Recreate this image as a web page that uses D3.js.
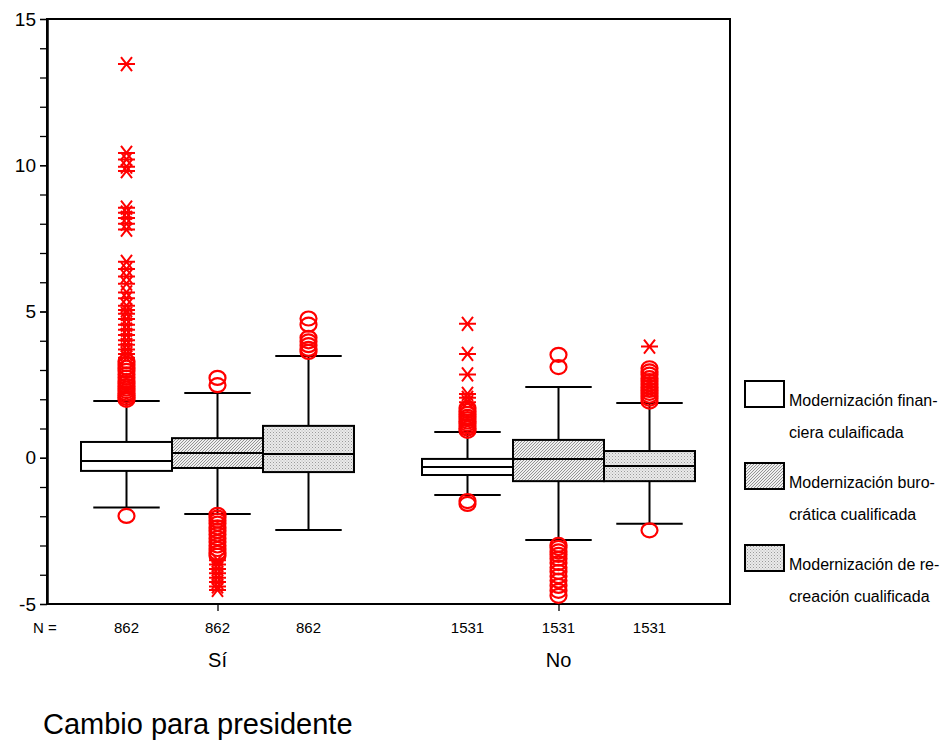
<!DOCTYPE html>
<html><head><meta charset="utf-8">
<script src="https://cdn.jsdelivr.net/npm/d3@7"></script>
<style>
body{margin:0;background:#fff;}
svg text{font-family:"Liberation Sans",Arial,sans-serif;fill:#000;}
</style></head>
<body><svg id="c" width="942" height="742"></svg>
<script>
// ---------- data ----------
const groups = ["Sí", "No"];
const series = ["Modernización financiera culaificada", "Modernización burocrática cualificada", "Modernización de recreación cualificada"];
const legendLines = [["Modernización finan-", "ciera culaificada"], ["Modernización buro-", "crática cualificada"], ["Modernización de re-", "creación cualificada"]];
const nCounts = [862, 862, 862, 1531, 1531, 1531];
const yMajorTicks = [-5, 0, 5, 10, 15];
const yMinorTicks = [-5,-4,-3,-2,-1,0,1,2,3,4,5,6,7,8,9,10,11,12,13,14,15];
// box order: Sí-fin, Sí-bur, Sí-rec, No-fin, No-bur, No-rec
const whiskerHigh = [1.94, 2.21, 3.48, 0.88, 2.42, 1.87];
const q3 = [0.54, 0.67, 1.09, -0.04, 0.61, 0.23];
const median = [-0.11, 0.16, 0.13, -0.32, -0.04, -0.28];
const q1 = [-0.45, -0.35, -0.49, -0.59, -0.80, -0.80];
const whiskerLow = [-1.70, -1.92, -2.47, -1.27, -2.81, -2.26];
// outliers (circles) and extremes (stars)
const siFinCircles = [1.98, 2.05, 2.12, 2.2, 2.28, 2.36, 2.45, 2.55, 2.62, 2.74, 2.85, 2.97, 3.08, 3.2, 3.3, -1.99];
const siFinStars = [3.42, 3.55, 3.7, 3.86, 4.02, 4.2, 4.38, 4.55, 4.74, 4.92, 5.05, 5.2, 5.45, 5.65, 5.95, 6.2, 6.45, 6.7, 7.8, 8.0, 8.2, 8.38, 8.55, 9.8, 9.95, 10.2, 10.42, 13.46];
const siBurCircles = [2.48, 2.73, -1.95, -2.05, -2.15, -2.25, -2.38, -2.5, -2.62, -2.75, -2.88, -3.0, -3.12, -3.25, -3.35];
const siBurStars = [-3.5, -3.65, -3.8, -3.95, -4.1, -4.25, -4.4, -4.52];
const siRecCircles = [3.62, 3.72, 3.85, 3.98, 4.1, 4.55, 4.76];
const siRecStars = [];
const noFinCircles = [0.92, 1.0, 1.08, 1.16, 1.24, 1.32, 1.4, 1.5, 1.6, 1.7, -1.48, -1.58];
const noFinStars = [1.9, 2.05, 2.18, 2.85, 3.55, 4.58];
const noBurCircles = [3.1, 3.52, -2.98, -3.08, -3.2, -3.32, -3.45, -3.6, -3.75, -3.9, -4.05, -4.2, -4.38, -4.55, -4.72];
const noBurStars = [];
const noRecCircles = [1.92, 2.02, 2.12, 2.22, 2.32, 2.42, 2.52, 2.62, 2.72, 2.84, 2.95, 3.06, -2.48];
const noRecStars = [3.8];

const circlesByBox = [siFinCircles, siBurCircles, siRecCircles, noFinCircles, noBurCircles, noRecCircles];
const starsByBox = [siFinStars, siBurStars, siRecStars, noFinStars, noBurStars, noRecStars];

// ---------- layout ----------
const L = 47, R = 730, T = 19, B = 604;
const svg = d3.select("#c");

const defs = svg.append("defs");
const p1 = defs.append("pattern").attr("id","hatch").attr("patternUnits","userSpaceOnUse").attr("width",3).attr("height",3);
p1.append("rect").attr("width",3).attr("height",3).attr("fill","#f0f0f0");
p1.append("path").attr("d","M-1,1 l2,-2 M0,3 l3,-3 M2,4 l2,-2").attr("stroke","#8a8a8a").attr("stroke-width",0.9);
const p2 = defs.append("pattern").attr("id","stipple").attr("patternUnits","userSpaceOnUse").attr("width",3).attr("height",3);
p2.append("rect").attr("width",3).attr("height",3).attr("fill","#eaeaea");
p2.append("rect").attr("x",0).attr("y",0).attr("width",1).attr("height",1).attr("fill","#9a9a9a");
p2.append("rect").attr("x",1.5).attr("y",1.5).attr("width",1).attr("height",1).attr("fill","#b4b4b4");
const fills = ["#ffffff", "url(#hatch)", "url(#stipple)"];

const y = d3.scaleLinear().domain([-5, 15]).range([B, T]);
const xg = d3.scalePoint().domain(groups).range([L, R - 1]).padding(0.5);
const xs = d3.scaleBand().domain(series).range([-136.5, 136.5]).padding(0);
const bw = xs.bandwidth();

// boxes data
const boxes = [];
groups.forEach((g, gi) => series.forEach((s, si) => {
  const i = gi * 3 + si;
  boxes.push({g, s, si, i, cx: xg(g) + xs(s) + bw / 2, x0: xg(g) + xs(s)});
}));

// frame
svg.append("rect").attr("x", L).attr("y", T).attr("width", R - L).attr("height", B - T)
  .attr("fill", "none").attr("stroke", "#000").attr("stroke-width", 2);

// y axis
const yMinor = svg.append("g").attr("transform", `translate(${L},0)`)
  .call(d3.axisLeft(y).tickValues(yMinorTicks).tickFormat("").tickSize(7).tickSizeOuter(0));
const yMajor = svg.append("g").attr("transform", `translate(${L},0)`)
  .call(d3.axisLeft(y).tickValues(yMajorTicks).tickFormat(d => String(d)).tickSize(7).tickPadding(4).tickSizeOuter(0));
[yMinor, yMajor].forEach(a => {
  a.select(".domain").attr("stroke", "#000").attr("stroke-width", 2);
  a.selectAll(".tick line").attr("stroke", "#000").attr("stroke-width", 1.3);
});
yMajor.selectAll(".tick text").attr("font-size", 19).attr("font-family", "'Liberation Sans',Arial,sans-serif").attr("fill","#000");

// x axis ticks (group centers)
const xa = svg.append("g").attr("transform", `translate(0,${B})`)
  .call(d3.axisBottom(xg).tickSize(7).tickFormat("").tickSizeOuter(0));
xa.select(".domain").remove();
xa.selectAll(".tick line").attr("stroke", "#000").attr("stroke-width", 1.3);

// whiskers
const bg = svg.append("g");
boxes.forEach(b => {
  const cap = bw * 0.73;
  bg.append("line").attr("x1", b.cx).attr("x2", b.cx).attr("y1", y(whiskerHigh[b.i])).attr("y2", y(q3[b.i])).attr("stroke", "#000").attr("stroke-width", 2);
  bg.append("line").attr("x1", b.cx).attr("x2", b.cx).attr("y1", y(q1[b.i])).attr("y2", y(whiskerLow[b.i])).attr("stroke", "#000").attr("stroke-width", 2);
  bg.append("line").attr("x1", b.cx - cap / 2).attr("x2", b.cx + cap / 2).attr("y1", y(whiskerHigh[b.i])).attr("y2", y(whiskerHigh[b.i])).attr("stroke", "#000").attr("stroke-width", 2);
  bg.append("line").attr("x1", b.cx - cap / 2).attr("x2", b.cx + cap / 2).attr("y1", y(whiskerLow[b.i])).attr("y2", y(whiskerLow[b.i])).attr("stroke", "#000").attr("stroke-width", 2);
});
boxes.forEach(b => {
  bg.append("rect").attr("x", b.x0).attr("width", bw).attr("y", y(q3[b.i])).attr("height", y(q1[b.i]) - y(q3[b.i]))
    .attr("fill", fills[b.si]).attr("stroke", "#000").attr("stroke-width", 2);
  bg.append("line").attr("x1", b.x0).attr("x2", b.x0 + bw).attr("y1", y(median[b.i])).attr("y2", y(median[b.i])).attr("stroke", "#000").attr("stroke-width", 2);
});

// outliers
const og = svg.append("g");
boxes.forEach(b => {
  circlesByBox[b.i].forEach(v => {
    og.append("ellipse").attr("cx", b.cx).attr("cy", y(v)).attr("rx", 8).attr("ry", 7)
      .attr("fill", "none").attr("stroke", "#ff0000").attr("stroke-width", 2.2);
  });
  starsByBox[b.i].forEach(v => {
    og.append("path").attr("transform", `translate(${b.cx},${y(v)})`)
      .attr("d", "M-8.5,0H8.5M-5.5,-7L5.5,7M-5.5,7L5.5,-7")
      .attr("fill", "none").attr("stroke", "#ff0000").attr("stroke-width", 2);
  });
});

// N labels
svg.append("text").attr("x", 33).attr("y", 633).attr("font-size", 15).text("N =");
boxes.forEach(b => {
  svg.append("text").attr("x", b.cx).attr("y", 633).attr("text-anchor", "middle").attr("font-size", 15).text(nCounts[b.i]);
});
// group labels
groups.forEach(g => {
  svg.append("text").attr("x", xg(g)).attr("y", 667).attr("text-anchor", "middle").attr("font-size", 20).text(g);
});
// axis title
svg.append("text").attr("x", 43).attr("y", 734).attr("font-size", 29).text("Cambio para presidente");

// legend
const lg = svg.append("g");
const legY = [381, 463, 545];
series.forEach((s, si) => {
  lg.append("rect").attr("x", 745).attr("y", legY[si]).attr("width", 39).attr("height", 26)
    .attr("fill", fills[si]).attr("stroke", "#000").attr("stroke-width", 2);
  lg.append("text").attr("x", 789).attr("y", legY[si] + 25).attr("font-size", 16).text(legendLines[si][0]);
  lg.append("text").attr("x", 789).attr("y", legY[si] + 57).attr("font-size", 16).text(legendLines[si][1]);
});
</script></body></html>
